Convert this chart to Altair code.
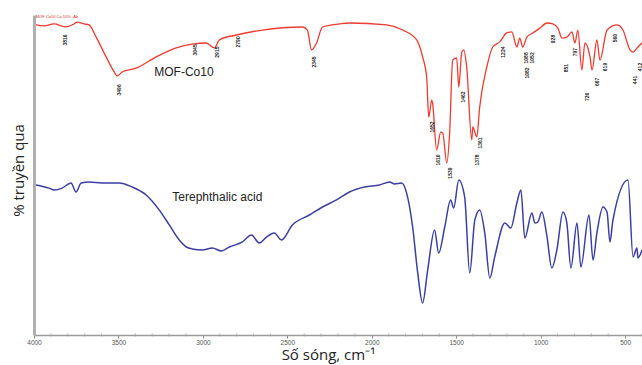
import altair as alt
import pandas as pd

# MOF-Co10 spectrum (wavenumber cm-1, relative transmittance)
red_wn = [3988, 3941, 3881, 3816, 3763, 3745, 3703, 3674, 3632, 3573, 3525, 3508, 3478, 3395,
          3276, 3158, 3063, 2980, 2932, 2903, 2802, 2648, 2410, 2381, 2357, 2327, 2292, 2191,
          2132, 1912, 1817, 1734, 1699, 1675, 1663, 1645, 1640, 1616, 1592, 1580, 1556, 1539,
          1521, 1497, 1485, 1467, 1456, 1438, 1408, 1402, 1378, 1361, 1319, 1284, 1242, 1201,
          1171, 1141, 1124, 1106, 1082, 1046, 1005, 963, 928, 898, 874, 845, 815, 797, 780,
          756, 738, 708, 696, 667, 649, 607, 548, 513, 471, 453, 424, 400]
red_t = [96.9, 96.6, 97.2, 96.3, 97.2, 97.8, 97.2, 96.9, 93.1, 86.9, 82.2, 80.9, 82.2, 83.4,
         86.9, 89.7, 90.9, 91.25, 89.7, 92.2, 93.75, 95.3, 96.25, 95.3, 89.1, 91.25, 96.25, 97.2,
         97.5, 96.9, 95.3, 92.2, 86.9, 80.6, 68.1, 73.4, 72.5, 57.8, 63.4, 63.1, 53.75, 63.1,
         85.9, 86.6, 77.5, 88.4, 89.1, 83.75, 60.9, 65.0, 61.9, 71.25, 83.75, 90.0, 91.6, 94.4,
         94.7, 90.0, 92.8, 90.0, 93.1, 94.4, 95.9, 97.5, 97.2, 95.9, 92.8, 93.1, 94.7, 91.25, 95.3,
         82.8, 91.25, 86.9, 82.8, 92.2, 85.9, 95.3, 96.9, 95.3, 89.1, 88.4, 90.0, 91.25]

# Terephthalic acid spectrum
blue_wn = [3988, 3911, 3881, 3834, 3781, 3751, 3721, 3674, 3597, 3496, 3419, 3336, 3259, 3199,
           3140, 3098, 3063, 3004, 2944, 2891, 2843, 2766, 2713, 2666, 2624, 2577, 2535, 2470,
           2369, 2292, 2209, 2132, 2043, 1954, 1894, 1865, 1823, 1794, 1758, 1728, 1699, 1669,
           1628, 1604, 1568, 1533, 1515, 1485, 1450, 1420, 1390, 1361, 1331, 1301, 1272, 1212,
           1177, 1141, 1117, 1094, 1052, 1034, 1017, 993, 963, 934, 904, 868, 845, 821, 785,
           762, 714, 690, 667, 631, 607, 590, 572, 483, 453, 430, 424, 400]
blue_t = [46.9, 45.9, 45.3, 45.9, 47.5, 44.7, 47.5, 47.8, 47.5, 47.5, 46.25, 43.75, 39.1, 34.4,
          29.7, 27.5, 26.9, 26.6, 27.2, 26.25, 27.5, 29.1, 31.25, 28.75, 30.6, 31.9, 29.7, 34.4,
          37.5, 40.0, 42.2, 44.7, 46.25, 46.9, 47.8, 47.2, 47.5, 44.4, 33.75, 19.4, 10.0, 20.3,
          32.8, 25.6, 33.75, 42.2, 39.7, 48.4, 43.1, 19.4, 35.9, 39.1, 31.9, 17.8, 24.4, 35.0,
          33.4, 41.25, 45.3, 30.3, 38.1, 35.0, 35.3, 38.4, 30.9, 20.9, 26.6, 38.4, 35.0, 20.9, 35.0,
          21.25, 37.5, 23.4, 31.9, 40.0, 38.4, 29.1, 35.9, 48.4, 24.4, 27.2, 24.1, 26.6]

# Peak annotations on the MOF-Co10 spectrum
peak_wn = [3816, 3496, 3045, 2915, 2790, 2345, 1645, 1610, 1539, 1462, 1378, 1361, 1224,
           1088, 1052, 1082, 928, 851, 797, 726, 667, 619, 560, 441, 412]
peak_t = [92.2, 76.6, 89.1, 88.4, 91.6, 85.3, 65.0, 54.7, 50.6, 74.4, 54.7, 60.0, 88.4,
          86.6, 86.6, 81.9, 92.5, 83.4, 88.4, 74.4, 79.1, 83.75, 92.8, 79.7, 83.75]
peak_text = ["3816", "3496", "3045", "2915", "2790", "2345", "1652", "1610", "1539", "1462",
             "1378", "1361", "1224", "1088", "1052", "1082", "928", "851", "797", "726",
             "667", "619", "560", "441", "412"]

x_labels = [4000, 3500, 3000, 2500, 2000, 1500, 1000, 500]
x_minor = [3900, 3800, 3700, 3600, 3400, 3300, 3200, 3100, 2900, 2800, 2700, 2600, 2400,
           2300, 2200, 2100, 1900, 1800, 1700, 1600, 1400, 1300, 1200, 1100, 900, 800,
           700, 600, 400]

red_df = pd.DataFrame({"wn": red_wn, "t": red_t})
blue_df = pd.DataFrame({"wn": blue_wn, "t": blue_t})
peak_df = pd.DataFrame({"wn": peak_wn, "t": peak_t, "label": peak_text})
name_df = pd.DataFrame({"wn": [3288, 3181], "t": [82.2, 43.1],
                        "label": ["MOF-Co10", "Terephthalic acid"]})
legend_df = pd.DataFrame({"wn": [3990], "t": [99.4], "label": ["MOF-Co10 Co 10% -Ab"]})
minor_df = pd.DataFrame({"wn": x_minor})

xscale = alt.Scale(domain=[4000, 400], nice=False, zero=False)
yscale = alt.Scale(domain=[0, 100], nice=False)

x_enc = alt.X("wn:Q", scale=xscale,
              axis=alt.Axis(values=x_labels, format="d", title="Số sóng, cm⁻¹",
                            grid=False, domainColor="#9a9a9a", domainWidth=1.5,
                            tickColor="#8a8a8a", tickSize=3, tickWidth=1, labelFontSize=6.5,
                            labelColor="#555555", labelPadding=1, labelFont="Liberation Sans",
                            titleFont="Open Sans", titleFontSize=15, titleFontWeight="normal",
                            titleColor="#222222", titlePadding=2, titleX=294,
                            labelOverlap=False, labelFlush=False, labelBound=False))
y_enc = alt.Y("t:Q", scale=yscale,
              axis=alt.Axis(title="% truyền qua", labels=False, ticks=False, grid=False,
                            domainColor="#b0b0b0", domainWidth=3, titleFont="Open Sans",
                            titleFontSize=15, titleFontWeight="normal", titleColor="#222222",
                            titlePadding=8, titleY=155))

red = alt.Chart(red_df).mark_line(color="#ee3b2f", strokeWidth=1.3,
                                  interpolate="monotone").encode(x=x_enc, y=y_enc)
blue = alt.Chart(blue_df).mark_line(color="#3b3fa3", strokeWidth=1.5,
                                    interpolate="monotone").encode(x="wn:Q", y="t:Q")
minor = alt.Chart(minor_df).mark_tick(color="#9a9a9a", orient="vertical", size=3,
                                      thickness=1).encode(
    x="wn:Q", y=alt.value(320))
peaks = alt.Chart(peak_df).mark_text(angle=270, fontSize=5, color="#222222",
                                     font="Liberation Sans", fontWeight="bold").encode(
    x="wn:Q", y="t:Q", text="label:N")
names = alt.Chart(name_df).mark_text(align="left", fontSize=12, color="#222222",
                                     font="Liberation Sans").encode(
    x="wn:Q", y="t:Q", text="label:N")
legend = alt.Chart(legend_df).mark_text(align="left", fontSize=4, color="#e03020",
                                        font="Liberation Sans").encode(
    x="wn:Q", y="t:Q", text="label:N")

chart = alt.layer(red, blue, minor, peaks, names, legend).properties(
    width=608, height=320,
    autosize=alt.AutoSizeParams(type="none"),
    padding={"left": 34, "top": 15, "right": 0, "bottom": 30},
    background="white",
).configure_view(stroke=None)

chart.save("out.html", embed_options={"renderer": "svg", "actions": False})
